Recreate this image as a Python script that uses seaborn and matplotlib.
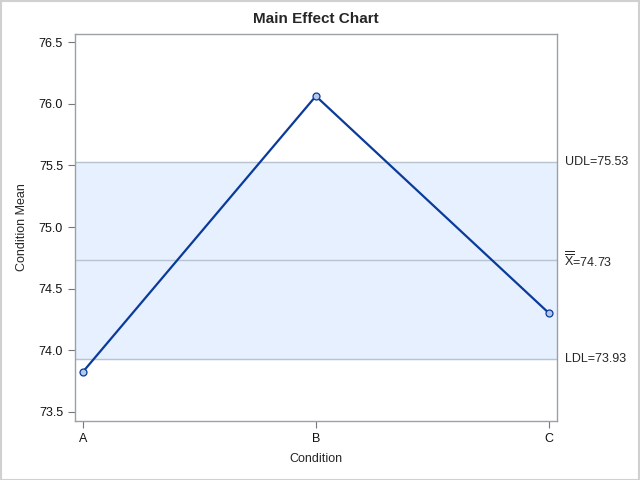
import matplotlib
matplotlib.use("Agg")
import matplotlib.pyplot as plt
import seaborn as sns
import pandas as pd

conditions = ["A", "B", "C"]
means = [73.824, 76.062, 74.302]
center = 74.73
udl = 75.53
ldl = 73.93
y_ticks = [73.5, 74.0, 74.5, 75.0, 75.5, 76.0, 76.5]

sns.set_style("white")
plt.rcParams["font.family"] = ["Liberation Sans", "DejaVu Sans"]
plt.rcParams["mathtext.fontset"] = "custom"
plt.rcParams["mathtext.rm"] = "Liberation Sans"
plt.rcParams["mathtext.it"] = "Liberation Sans"

df = pd.DataFrame({"Condition": conditions, "Mean": means})
df["pos"] = range(len(conditions))

fig = plt.figure(figsize=(6.4, 4.8), dpi=100)
ax = fig.add_axes([0.117, 0.123, 0.753, 0.806])

# decision limits band
ax.axhspan(ldl, udl, color="#e6f0ff", zorder=0)
for y in (ldl, center, udl):
    ax.axhline(y, color="#b8c4d0", lw=1, zorder=1)

sns.lineplot(data=df, x="pos", y="Mean", ax=ax, color="#0a3a9a", lw=1.6,
             marker="o", markersize=5, markerfacecolor="#b4c8ea",
             markeredgecolor="#0a3a9a", markeredgewidth=0.9, zorder=3)

ax.set_xlim(-0.034, 2.034)
ax.set_ylim(73.427, 76.565)
ax.set_xticks(df["pos"])
ax.set_xticklabels(conditions)
ax.set_yticks(y_ticks)
ax.set_yticklabels([f"{t:.1f}" for t in y_ticks])
ax.tick_params(axis="both", labelsize=9, color="#777777", length=5,
               width=0.8, direction="out", left=True, bottom=True,
               labelcolor="#111111")
for s in ax.spines.values():
    s.set_color("#9aa0a6")
    s.set_linewidth(1)

ax.set_xlabel("Condition", fontsize=9, labelpad=6)
ax.set_ylabel("Condition Mean", fontsize=9, labelpad=8)
ax.set_title("Main Effect Chart", fontsize=11, fontweight="bold", pad=8)

trans = ax.get_yaxis_transform()
ax.text(1.018, udl, f"UDL={udl:.2f}", transform=trans, fontsize=9,
        va="center", ha="left", clip_on=False)
ax.text(1.015, center, r"$\overline{\overline{\mathrm{X}}}$" + f"={center:.2f}",
        transform=trans, fontsize=9, va="center", ha="left", clip_on=False)
ax.text(1.018, ldl, f"LDL={ldl:.2f}", transform=trans, fontsize=9,
        va="center", ha="left", clip_on=False)

# outer border
fig.patches.append(plt.Rectangle((0.001, 0.001), 0.997, 0.997,
                                 transform=fig.transFigure, fill=False,
                                 edgecolor="#d0d0d0", lw=1.5))

fig.savefig("out.png", dpi=100)
